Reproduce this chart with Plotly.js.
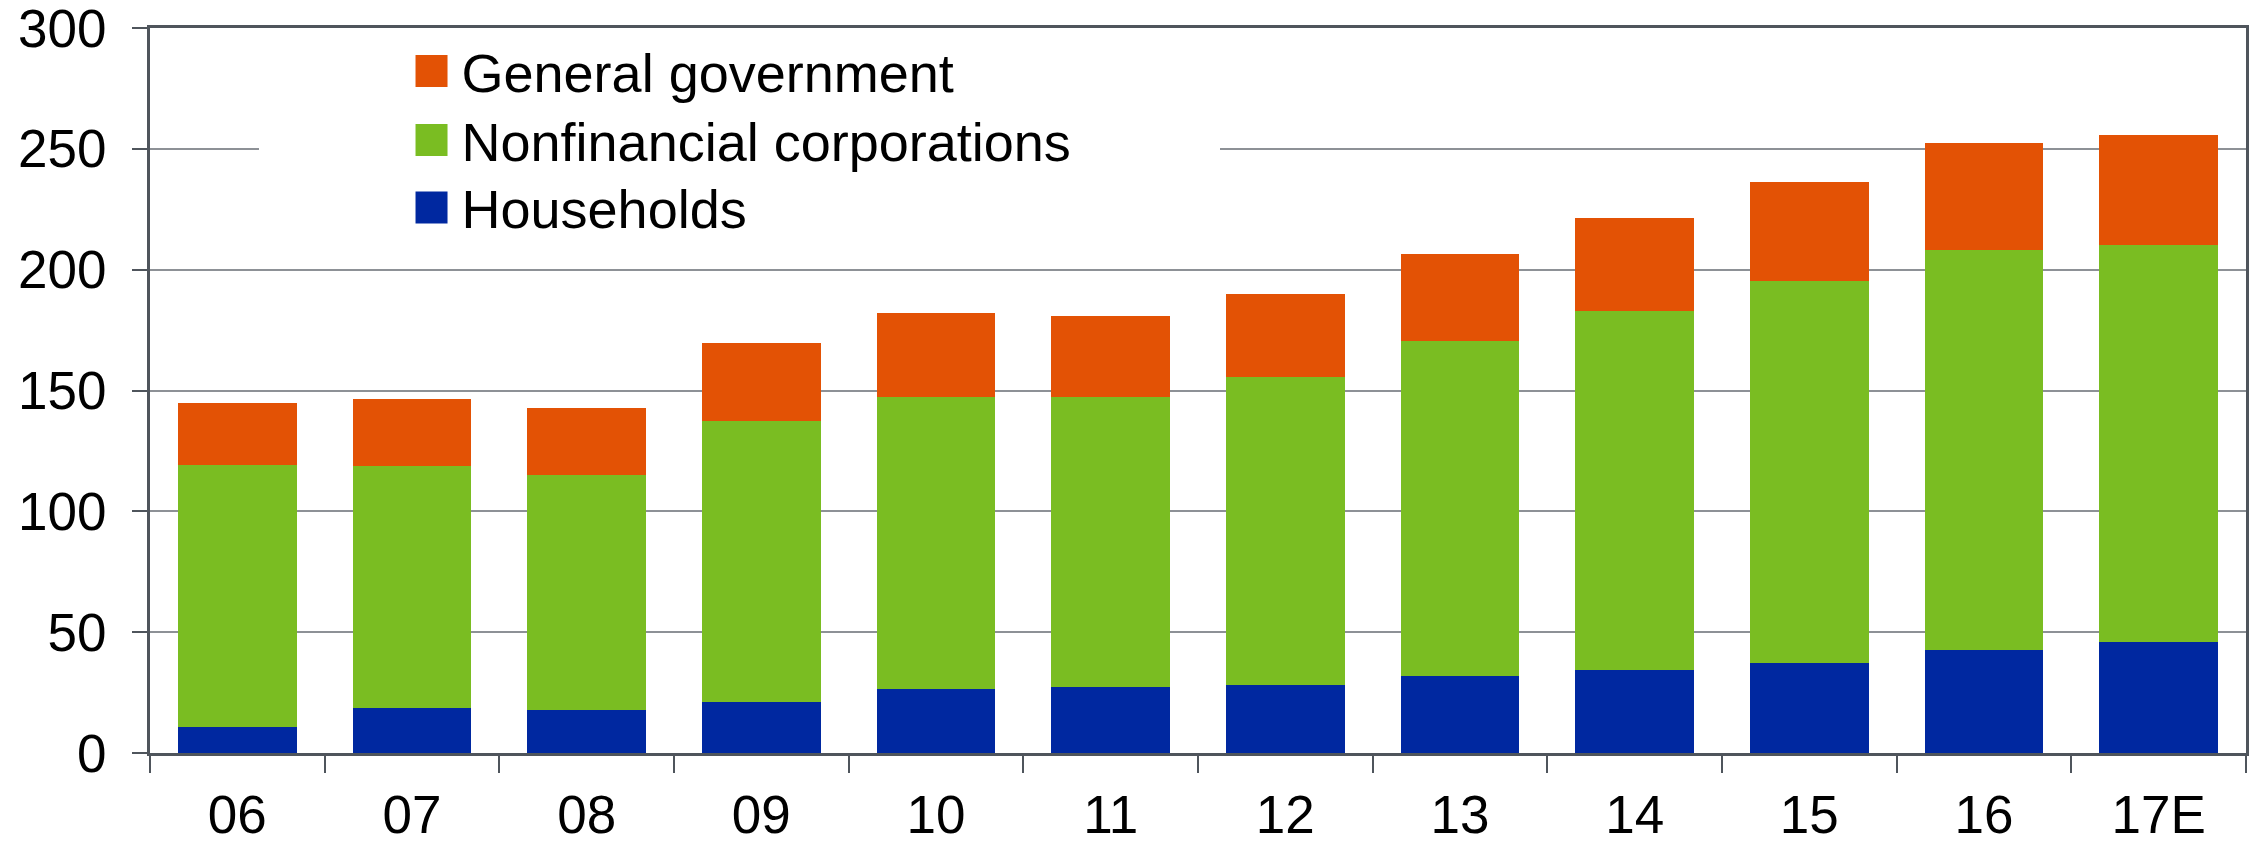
<!DOCTYPE html>
<html>
<head>
<meta charset="utf-8">
<script src="https://cdn.plot.ly/plotly-3.0.1.min.js"></script>
<style>
html, body { margin: 0; padding: 0; background: #fff; }
#chart { width: 2257px; height: 843px; }
</style>
</head>
<body>
<div id="chart"></div>
<script>
var years = ["06", "07", "08", "09", "10", "11", "12", "13", "14", "15", "16", "17E"];
var households = [10.8, 18.8, 17.9, 21.2, 26.6, 27.4, 28.2, 31.8, 34.5, 37.3, 42.5, 45.9];
var nonfinancialCorporations = [108.4, 99.8, 97.1, 116.0, 120.6, 119.8, 127.3, 138.5, 148.4, 157.9, 165.8, 164.2];
var generalGovernment = [25.6, 27.8, 27.9, 32.4, 34.8, 33.8, 34.3, 36.2, 38.6, 41.1, 44.0, 45.5];

var colors = { households: "#0028A0", corporations: "#7ABD22", government: "#E35205" };
var fontFamily = "Liberation Sans, Arial, sans-serif";
var axisColor = "#4f555c";

var traces = [
  { type: "bar", name: "Households", legend: "legend3", x: years, y: households,
    marker: { color: colors.households, line: { width: 0 } } },
  { type: "bar", name: "Nonfinancial corporations", legend: "legend2", x: years, y: nonfinancialCorporations,
    marker: { color: colors.corporations, line: { width: 0 } } },
  { type: "bar", name: "General government", legend: "legend", x: years, y: generalGovernment,
    marker: { color: colors.government, line: { width: 0 } } }
];

function legendAt(yPos) {
  return {
    x: 0.12, y: yPos, xanchor: "left", yanchor: "middle",
    bgcolor: "rgba(255,255,255,0)", borderwidth: 0, itemwidth: 50,
    font: { family: fontFamily, size: 54, color: "#000000" }
  };
}

var layout = {
  width: 2257, height: 843,
  margin: { l: 150, r: 11, t: 28, b: 90 },
  paper_bgcolor: "#ffffff", plot_bgcolor: "#ffffff",
  barmode: "stack", bargap: 0.32,
  font: { family: fontFamily, size: 53, color: "#000000" },
  showlegend: true,
  legend: legendAt(0.940),
  legend2: legendAt(0.845),
  legend3: legendAt(0.752),
  xaxis: {
    type: "category", tickson: "boundaries",
    ticks: "outside", ticklen: 17, tickwidth: 2, tickcolor: axisColor,
    showline: true, linecolor: axisColor, linewidth: 3, mirror: true,
    showgrid: false, zeroline: false,
    ticklabelstandoff: 13,
    ticklabeloverflow: "allow",
    tickfont: { family: fontFamily, size: 53, color: "#000000" }
  },
  yaxis: {
    range: [0, 300], dtick: 50, tick0: 0,
    ticks: "outside", ticklen: 15, tickwidth: 2, tickcolor: axisColor,
    showline: true, linecolor: axisColor, linewidth: 3, mirror: true,
    showgrid: true, gridcolor: "#8d9196", gridwidth: 2,
    zeroline: false,
    ticklabelstandoff: 15,
    ticklabeloverflow: "allow",
    tickfont: { family: fontFamily, size: 53, color: "#000000" }
  },
  shapes: [
    { type: "rect", xref: "paper", yref: "y", x0: 0.052, x1: 0.5105, y0: 240, y1: 262,
      fillcolor: "#ffffff", line: { width: 0 }, layer: "above" }
  ]
};

Plotly.newPlot("chart", traces, layout, { displayModeBar: false, staticPlot: true }).then(function () {
  document.querySelectorAll(".legendpoints path").forEach(function (p) {
    p.setAttribute("d", "M16,16H-16V-16H16Z");
  });
});
</script>
</body>
</html>
